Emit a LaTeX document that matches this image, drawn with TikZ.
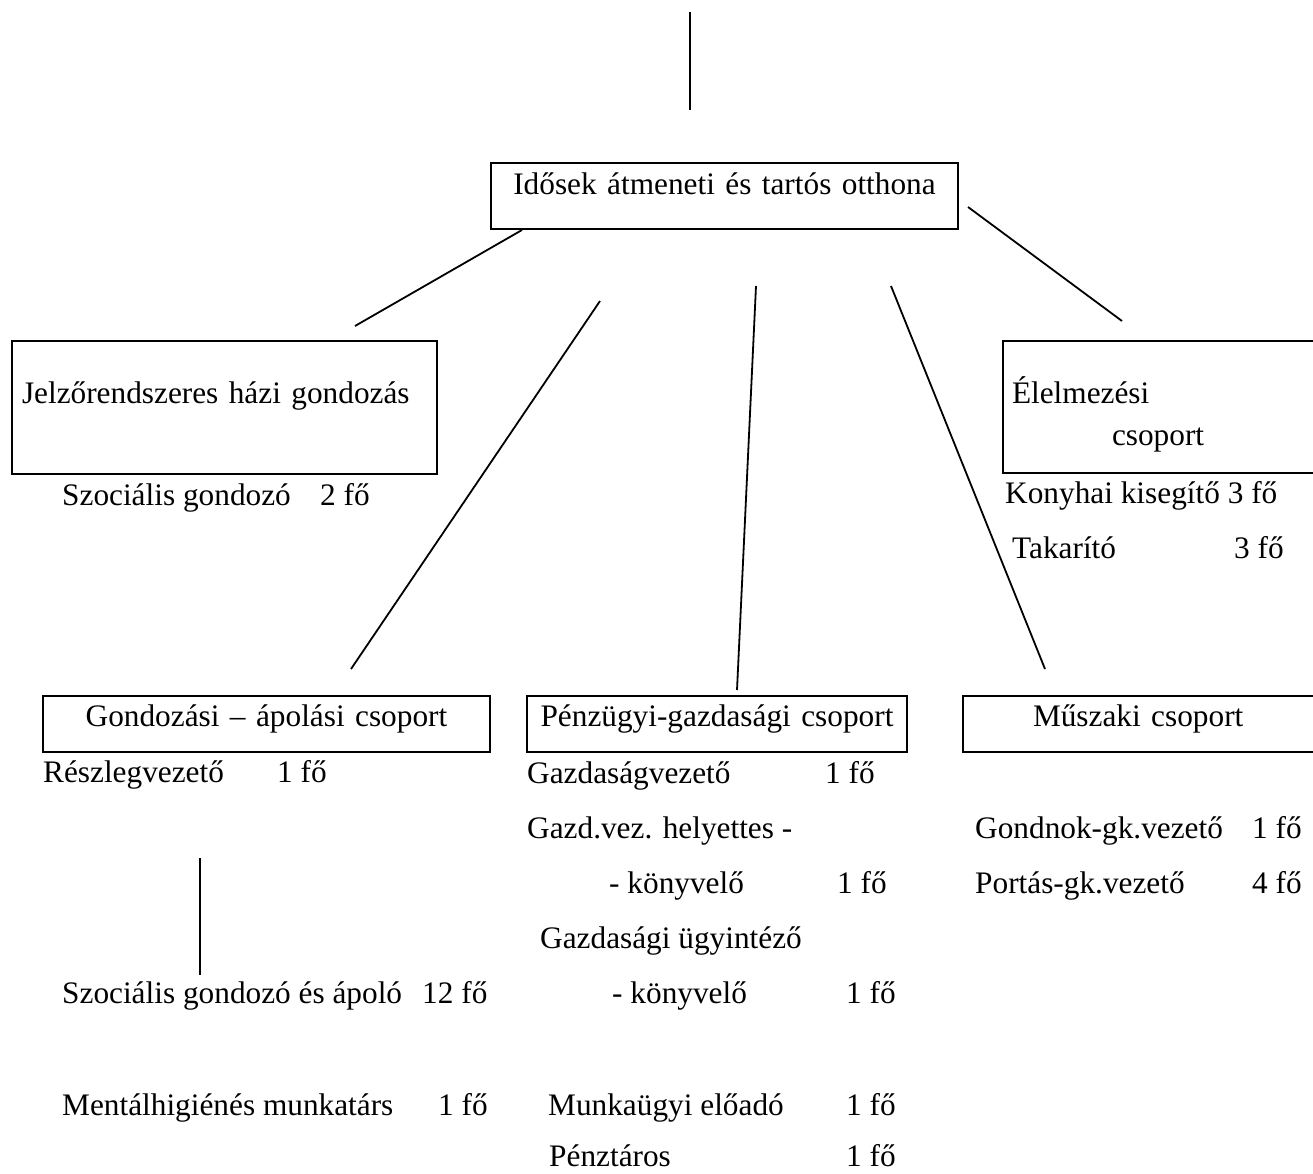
\documentclass[tikz,border=0pt]{standalone}
\usepackage{fontspec}
\setmainfont{Liberation Serif}

\begin{document}
\begin{tikzpicture}[x=1pt,y=-1pt,
  font=\fontsize{31.3}{38}\selectfont,
  box/.style={draw,line width=2.6pt,inner ysep=0pt,outer sep=0pt,anchor=north west},
  txt/.style={anchor=base west,inner sep=0pt},
  conn/.style={line width=1.8pt}]
  \useasboundingbox (0,0) rectangle (1313,1173);

  % boxes
  \node[box,inner xsep=0pt,text width=467pt,align=center,text height=31pt,text depth=35pt] (otthon) at (491,163) {Idősek átmeneti és tartós otthona};
  \node[box,inner xsep=10pt,text width=405pt,align=left,text height=62pt,text depth=71pt] (jelzo) at (12,341) {Jelzőrendszeres házi gondozás};
  \node[box,inner xsep=9pt,text width=330pt,align=left,text height=62pt,text depth=70pt,font=\fontsize{31.3}{42}\selectfont] (elelm) at (1003,341) {Élelmezési\\\hspace*{100pt}csoport};
  \node[box,inner xsep=0pt,text width=447pt,align=center,text height=30pt,text depth=26pt] (gond) at (43,696) {Gondozási – ápolási csoport};
  \node[box,inner xsep=0pt,text width=380pt,align=center,text height=30pt,text depth=26pt] (penz) at (527,696) {Pénzügyi-gazdasági csoport};
  \node[box,inner xsep=70pt,text width=300pt,align=left,text height=30pt,text depth=26pt] (musz) at (963,696) {Műszaki csoport};

  % staff
  \node[txt] (szg) at (62,505) {Szociális gondozó};
  \node[txt] (szgn) at (320,505) {2 fő};
  \node[txt] (kony) at (1005,503) {Konyhai kisegítő 3 fő};
  \node[txt] (tak) at (1012,558) {Takarító};
  \node[txt] (takn) at (1234,558) {3 fő};
  \node[txt] (resz) at (43,782) {Részlegvezető};
  \node[txt] (reszn) at (277,782) {1 fő};
  \node[txt] (apol) at (62,1003) {Szociális gondozó és ápoló};
  \node[txt] (apoln) at (422,1003) {12 fő};
  \node[txt] (ment) at (62,1115) {Mentálhigiénés munkatárs};
  \node[txt] (mentn) at (438,1115) {1 fő};
  \node[txt] (gvez) at (527,783) {Gazdaságvezető};
  \node[txt] (gvezn) at (825,783) {1 fő};
  \node[txt] (ghely) at (527,838) {Gazd.vez. helyettes -};
  \node[txt] (konyv) at (609,893) {- könyvelő};
  \node[txt] (konyvn) at (837,893) {1 fő};
  \node[txt] (ugy) at (540,948) {Gazdasági ügyintéző};
  \node[txt] (konyv2) at (612,1003) {- könyvelő};
  \node[txt] (konyv2n) at (846,1003) {1 fő};
  \node[txt] (munka) at (548,1115) {Munkaügyi előadó};
  \node[txt] (munkan) at (846,1115) {1 fő};
  \node[txt] (kassza) at (549,1166) {Pénztáros};
  \node[txt] (kasszan) at (846,1166) {1 fő};
  \node[txt] (gondnok) at (975,838) {Gondnok-gk.vezető};
  \node[txt] (gondnokn) at (1252,838) {1 fő};
  \node[txt] (porta) at (975,893) {Portás-gk.vezető};
  \node[txt] (portan) at (1252,893) {4 fő};

  % connectors
  \coordinate (fent) at (690,12);   \coordinate (fentb) at (690,110);
  \coordinate (c1a) at (522,230);   \coordinate (c1b) at (355,326);
  \coordinate (c2a) at (968,207);   \coordinate (c2b) at (1122,321);
  \coordinate (c3a) at (600,301);   \coordinate (c3b) at (351,669);
  \coordinate (c4a) at (756,286);   \coordinate (c4b) at (737,690);
  \coordinate (c5a) at (891,286);   \coordinate (c5b) at (1045,669);
  \coordinate (r1) at (200,858);    \coordinate (r2) at (200,975);
  \foreach \a/\b in {fent/fentb,c1a/c1b,c2a/c2b,c3a/c3b,c4a/c4b,c5a/c5b,r1/r2}
    \draw[conn] (\a) -- (\b);
\end{tikzpicture}
\end{document}
